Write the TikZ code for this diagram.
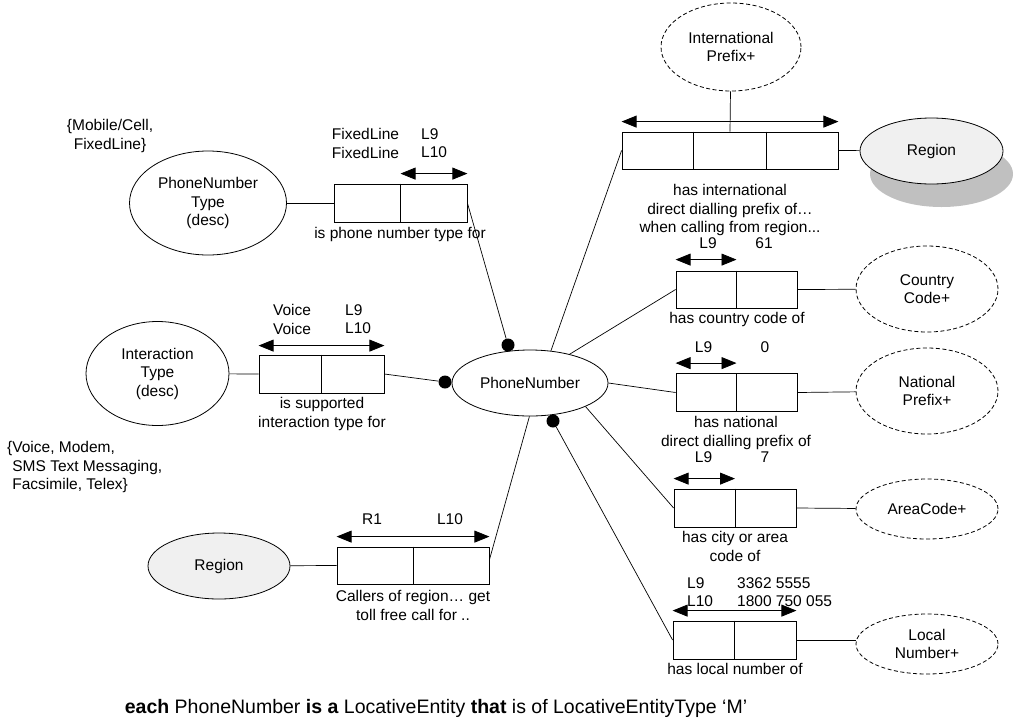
\documentclass[tikz,border=0pt]{standalone}
\usepackage{fontspec}
\setmainfont{Liberation Sans}
\usetikzlibrary{shapes.geometric, arrows.meta, calc, shadows}

\definecolor{regionfill}{HTML}{F0F0F0}
\definecolor{shadowgray}{HTML}{C0C0C0}
\newcommand\lblfont{\fontsize{15.5}{18.5}\selectfont}

\begin{document}
\begin{tikzpicture}[x=1pt, y=-1pt,
  every node/.style={font=\lblfont},
  entity/.style={ellipse, draw, line width=0.8pt, inner sep=0pt, align=center, minimum width=142pt},
  derived/.style={entity, dash pattern=on 4pt off 2.5pt},
  factbox/.style={draw, line width=0.8pt, fill=white, inner sep=0pt, minimum height=38pt},
  cellline/.style={line width=0.8pt},
  link/.style={line width=0.7pt},
  rolearrow/.style={line width=0.8pt, {Triangle[length=15pt,width=12pt]}-{Triangle[length=15pt,width=12pt]}},
  dot/.style={circle, fill=black, inner sep=0pt, minimum size=13pt},
  lbl/.style={inner sep=0pt, align=center, anchor=north},
  lbll/.style={inner sep=0pt, align=left, anchor=north west}
]
\useasboundingbox (0,0) rectangle (1016,726);

% entity types
\node[entity, minimum width=157pt, minimum height=104pt] (pnt) at (208,203) {PhoneNumber\\Type\\(desc)};
\node[entity, minimum width=143pt, minimum height=104pt] (itype) at (157.5,373.5) {Interaction\\Type\\(desc)};
\node[entity, fill=regionfill, minimum height=66pt] (regL) at (219,566) {Region};
\node[entity, minimum width=156pt, minimum height=66pt] (pn) at (530,383) {PhoneNumber};
\node[derived, minimum width=140pt, minimum height=88pt] (ipfx) at (731,47) {International\\Prefix+};
\node[entity, fill=regionfill, minimum width=143pt, minimum height=66pt,
      general shadow={fill=shadowgray, shadow xshift=10pt, shadow yshift=-23pt}] (regR) at (931.5,151) {Region};
\node[derived, minimum height=86pt] (cc) at (927,289) {Country\\Code+};
\node[derived, minimum height=86pt] (np) at (927,391) {National\\Prefix+};
\node[derived, minimum height=60pt] (ac) at (927,509) {AreaCode+};
\node[derived, minimum height=60pt] (ln) at (927,644) {Local\\Number+};

% fact types
\node[factbox, minimum width=133pt] (ft1) at (400.5,203) {};
\node[factbox, minimum width=125pt] (ft2) at (321.5,374) {};
\node[factbox, minimum width=152pt, minimum height=37pt] (ft3) at (413,565.5) {};
\node[factbox, minimum width=216pt, minimum height=37pt] (fti) at (730,150.5) {};
\node[factbox, minimum width=121pt, minimum height=37pt] (ftc) at (736.5,289.5) {};
\node[factbox, minimum width=121pt] (ftn) at (736.5,392.5) {};
\node[factbox, minimum width=122pt] (fta) at (735,508) {};
\node[factbox, minimum width=123pt] (ftl) at (734.5,640) {};

% role dividers
\foreach \f in {ft1,ft2,ft3,ftc,ftn,fta,ftl}
  \draw[cellline] (\f.north) -- (\f.south);
\draw[cellline] ($(fti.north west)!1/3!(fti.north east)$) -- ($(fti.south west)!1/3!(fti.south east)$);
\draw[cellline] ($(fti.north west)!2/3!(fti.north east)$) -- ($(fti.south west)!2/3!(fti.south east)$);

% uniqueness constraints
\draw[rolearrow] ([yshift=10pt]ft1.north) -- ([yshift=10pt]ft1.north east);
\draw[rolearrow] ([yshift=9pt]ft2.north west) -- ([yshift=9pt]ft2.north east);
\draw[rolearrow] ([yshift=10pt]ft3.north west) -- ([yshift=10pt]ft3.north east);
\draw[rolearrow] ([yshift=10pt]fti.north west) -- ([yshift=10pt]fti.north east);
\draw[rolearrow] ([yshift=11pt]ftc.north west) -- ([yshift=11pt]ftc.north);
\draw[rolearrow] ([yshift=10pt]ftn.north west) -- ([yshift=10pt]ftn.north);
\draw[rolearrow] ([yshift=10pt]fta.north west) -- ([yshift=10pt]fta.north);
\draw[rolearrow] ([yshift=10pt]ftl.north west) -- ([yshift=10pt]ftl.north east);

% mandatory role dots
\node[dot] (dtop) at (508,345) {};
\node[dot] (dleft) at (445,382) {};
\node[dot] (dbot) at (553,421) {};

% connectors
\draw[link] (pnt) -- (ft1.west);
\draw[link] (ft1.east) -- (dtop);
\draw[link] (itype) -- (ft2.west);
\draw[link] (ft2.east) -- (dleft);
\draw[link] (regL) -- (ft3.west);
\draw[link] ($(ft3.north east)!0.35!(ft3.south east)$) -- (pn.-91);
\draw[link] (pn.57) -- (fti.west);
\draw[link] (ipfx) -- (fti.north);
\draw[link] (fti.east) -- (regR);
\draw[link] (pn.36) -- (ftc.west);
\draw[link] (ftc.east) -- (cc);
\draw[link] (pn.east) -- (ftn.west);
\draw[link] (ftn.east) -- (np);
\draw[link] (pn.-23) -- (fta.west);
\draw[link] (fta.east) -- (ac);
\draw[link] (dbot) -- (ftl.west);
\draw[link] (ftl.east) -- (ftl.east -| ln.west);

% value lists
\node[lbl] (vals1) at (110,119.3) {\{Mobile/Cell,\\FixedLine\}};
\node[lbll] (vals2) at (7,441.3) {\{Voice, Modem,\\\hphantom{\{}SMS Text Messaging,\\\hphantom{\{}Facsimile, Telex\}};

% sample populations
\node[lbl] (pop1a) at (365.5,128.3) {FixedLine\\FixedLine};
\node[lbll] (pop1b) at (421,128.3) {L9\\L10};
\node[lbl] (pop2a) at (292,304.3) {Voice\\Voice};
\node[lbll] (pop2b) at (345,304.3) {L9\\L10};
\node[lbl] (pop3a) at (372,513.3) {R1};
\node[lbl] (pop3b) at (450,513.3) {L10};
\node[lbl] (popca) at (708,237.3) {L9};
\node[lbl] (popcb) at (764,237.3) {61};
\node[lbl] (popna) at (703.5,341.3) {L9};
\node[lbl] (popnb) at (765,341.3) {0};
\node[lbl] (popaa) at (703.5,451.3) {L9};
\node[lbl] (popab) at (765,451.3) {7};
\node[lbll] (popla) at (687,577.3) {L9\\L10};
\node[lbll] (poplb) at (737,577.3) {3362 5555\\1800 750 055};

% readings
\node[lbl] (rd1) at (400,227.3) {is phone number type for};
\node[lbl] (rd2) at (322,397.3) {is supported\\interaction type for};
\node[lbl] (rd3) at (413,590.3) {Callers of region… get\\toll free call for ..};
\node[lbl] (rdi) at (730,184.3) {has international\\direct dialling prefix of…\\when calling from region...};
\node[lbl] (rdc) at (737,312.3) {has country code of};
\node[lbl] (rdn) at (736,416.3) {has national\\direct dialling prefix of};
\node[lbl] (rda) at (735,531.3) {has city or area\\code of};
\node[lbl] (rdl) at (735,663.3) {has local number of};

% definition
\node[font=\fontsize{19.5}{23}\selectfont] (defn) at (436,708)
  {\textbf{each} PhoneNumber \textbf{is a} LocativeEntity \textbf{that} is of LocativeEntityType ‘M’};
\end{tikzpicture}
\end{document}
